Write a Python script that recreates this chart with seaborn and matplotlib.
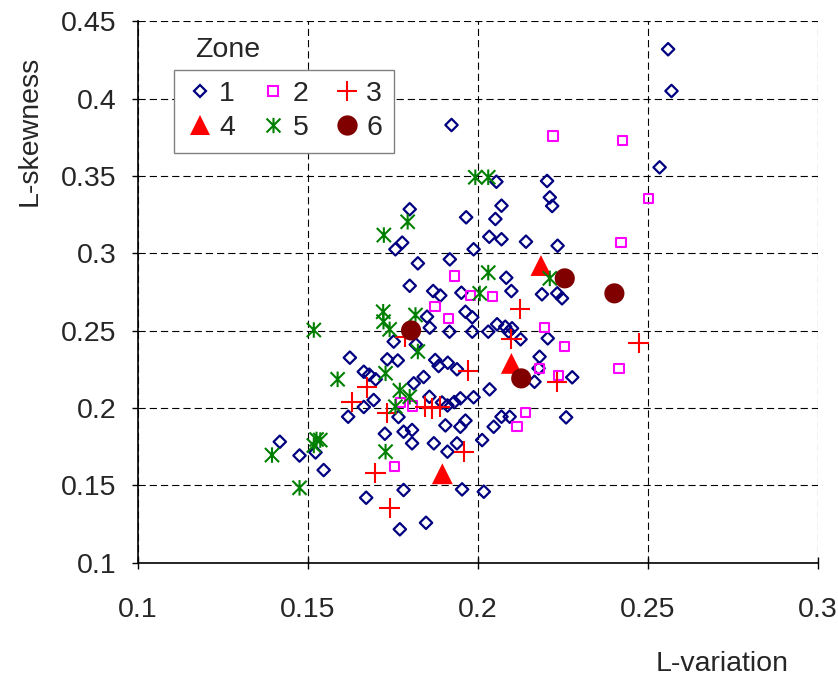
import matplotlib
matplotlib.use("Agg")
import matplotlib.pyplot as plt
import seaborn as sns
import pandas as pd
from matplotlib.lines import Line2D
from matplotlib.path import Path

# ---------------- data ----------------
z1_x = [0.2560, 0.2570, 0.2535, 0.1923, 0.2055, 0.2204, 0.2212, 0.2219, 0.2070, 0.1966,
        0.2052, 0.2034, 0.2070, 0.2142, 0.2235, 0.1988, 0.1918, 0.2084, 0.2099, 0.2189,
        0.2234, 0.2248, 0.1952, 0.1800, 0.1778, 0.1758, 0.1824, 0.1800, 0.1869, 0.1890,
        0.1851, 0.1859, 0.1917, 0.1753, 0.1818, 0.1624, 0.1734, 0.1765, 0.1875, 0.1885,
        0.1912, 0.1665, 0.1681, 0.1700, 0.1841, 0.1812, 0.1694, 0.1665, 0.1619, 0.1767,
        0.1858, 0.1895, 0.1911, 0.1931, 0.1949, 0.1905, 0.1727, 0.1782, 0.1807, 0.1807,
        0.1871, 0.1418, 0.1476, 0.1523, 0.1547, 0.1911, 0.1782, 0.1672, 0.1848, 0.1771,
        0.1964, 0.1984, 0.1984, 0.2031, 0.2057, 0.2081, 0.2101, 0.2091, 0.2126, 0.1939,
        0.2035, 0.1988, 0.2070, 0.2094, 0.1964, 0.1949, 0.2047, 0.2260, 0.2013, 0.1939,
        0.2182, 0.2179, 0.2167, 0.2278, 0.2206, 0.1954, 0.2018]
z1_y = [0.4320, 0.4050, 0.3556, 0.3830, 0.3463, 0.3468, 0.3362, 0.3306, 0.3308, 0.3233,
        0.3222, 0.3107, 0.3091, 0.3075, 0.3049, 0.3026, 0.2961, 0.2842, 0.2756, 0.2735,
        0.2741, 0.2709, 0.2745, 0.3285, 0.3069, 0.3026, 0.2935, 0.2790, 0.2756, 0.2727,
        0.2590, 0.2519, 0.2493, 0.2429, 0.2410, 0.2325, 0.2314, 0.2307, 0.2310, 0.2271,
        0.2292, 0.2234, 0.2215, 0.2185, 0.2200, 0.2159, 0.2051, 0.2006, 0.1943, 0.1941,
        0.2072, 0.2035, 0.2016, 0.2038, 0.2062, 0.1887, 0.1833, 0.1846, 0.1857, 0.1771,
        0.1771, 0.1781, 0.1692, 0.1712, 0.1598, 0.1717, 0.1469, 0.1419, 0.1257, 0.1215,
        0.2622, 0.2586, 0.2493, 0.2493, 0.2541, 0.2525, 0.2515, 0.2493, 0.2444, 0.2250,
        0.2120, 0.2069, 0.1943, 0.1943, 0.1918, 0.1878, 0.1878, 0.1939, 0.1792, 0.1771,
        0.2331, 0.2256, 0.2169, 0.2198, 0.2450, 0.1473, 0.1458]

z2_x = [0.2221, 0.2426, 0.2503, 0.2421, 0.1932, 0.1979, 0.2044, 0.1914, 0.1874, 0.2197,
        0.2256, 0.2181, 0.2238, 0.2415, 0.1773, 0.1809, 0.1756, 0.2140, 0.2116]
z2_y = [0.3759, 0.3728, 0.3356, 0.3070, 0.2853, 0.2727, 0.2719, 0.2580, 0.2655, 0.2519,
        0.2396, 0.2256, 0.2208, 0.2256, 0.2034, 0.2012, 0.1620, 0.1969, 0.1878]

z3_x = [0.1675, 0.1629, 0.1734, 0.1846, 0.1866, 0.1888, 0.1699, 0.1741, 0.2124, 0.2099,
        0.1972, 0.2234, 0.2473, 0.1959, 0.1787]
z3_y = [0.2133, 0.2040, 0.1969, 0.2008, 0.1997, 0.2008, 0.1577, 0.1354, 0.2638, 0.2446,
        0.2241, 0.2169, 0.2420, 0.1717, 0.2459]

z4_x = [0.2186, 0.2099, 0.1896]
z4_y = [0.2921, 0.2288, 0.1574]

z5_x = [0.1993, 0.2031, 0.1794, 0.1724, 0.2212, 0.2031, 0.2006, 0.1722, 0.1723, 0.1741,
        0.1817, 0.1518, 0.1824, 0.1588, 0.1729, 0.1771, 0.1800, 0.1758, 0.1526, 0.1537,
        0.1518, 0.1395, 0.1729, 0.1476]
z5_y = [0.3492, 0.3492, 0.3204, 0.3118, 0.2838, 0.2875, 0.2741, 0.2622, 0.2558, 0.2508,
        0.2601, 0.2504, 0.2365, 0.2185, 0.2224, 0.2113, 0.2072, 0.2008, 0.1796, 0.1792,
        0.1757, 0.1695, 0.1717, 0.1483]

z6_x = [0.1804, 0.2256, 0.2402, 0.2128]
z6_y = [0.2501, 0.2838, 0.2741, 0.2191]

zone_labels = ["1", "2", "3", "4", "5", "6"]
x_ticks = [0.1, 0.15, 0.2, 0.25, 0.3]
y_ticks = [0.1, 0.15, 0.2, 0.25, 0.3, 0.35, 0.4, 0.45]
x_tick_labels = ["0.1", "0.15", "0.2", "0.25", "0.3"]
y_tick_labels = ["0.1", "0.15", "0.2", "0.25", "0.3", "0.35", "0.4", "0.45"]

# ---------------- styling ----------------
sns.set_theme(style="white")
plt.rcParams["font.family"] = ["Liberation Sans", "DejaVu Sans"]

FS = 20.5
asterisk = Path([(-1, -1), (1, 1), (-1, 1), (1, -1), (0, -1.1), (0, 1.1)],
                [Path.MOVETO, Path.LINETO, Path.MOVETO, Path.LINETO, Path.MOVETO, Path.LINETO])

styles = {
    "1": dict(marker="D", s=40, color="#000080", filled=False, lw=1.6, ms=6.6),
    "2": dict(marker="s", s=46, color="#FF00FF", filled=False, lw=1.5, ms=7.2),
    "3": dict(marker="+", s=215, color="#FF0000", filled=False, lw=1.5, ms=15),
    "4": dict(marker="^", s=225, color="#FF0000", filled=True, lw=0.0, ms=15),
    "5": dict(marker=asterisk, s=125, color="#008000", filled=False, lw=1.5, ms=11),
    "6": dict(marker="o", s=210, color="#800000", filled=True, lw=0.0, ms=14.6),
}

data = {
    "1": (z1_x, z1_y), "2": (z2_x, z2_y), "3": (z3_x, z3_y),
    "4": (z4_x, z4_y), "5": (z5_x, z5_y), "6": (z6_x, z6_y),
}

fig = plt.figure(figsize=(8.38, 6.82), dpi=100)
ax = fig.add_axes([0.1643, 0.1752, 0.8115, 0.7934])

for z in zone_labels:
    xs, ys = data[z]
    st = styles[z]
    df = pd.DataFrame({"L-variation": xs, "L-skewness": ys})
    sns.scatterplot(data=df, x="L-variation", y="L-skewness", ax=ax,
                    marker=st["marker"], s=st["s"], legend=False, zorder=3)
    coll = ax.collections[-1]
    if st["filled"]:
        coll.set_facecolor(st["color"])
        coll.set_edgecolor("none")
        coll.set_linewidth(0)
    else:
        coll.set_facecolor("none")
        coll.set_edgecolor(st["color"])
        coll.set_linewidth(st["lw"])

ax.set_xlim(0.1, 0.3)
ax.set_ylim(0.1, 0.45)
ax.set_xticks(x_ticks)
ax.set_xticklabels(x_tick_labels)
ax.set_yticks(y_ticks)
ax.set_yticklabels(y_tick_labels)

ax.grid(True, color="black", linestyle=(0, (6.5, 3.6)), linewidth=0.8, zorder=0)
ax.set_axisbelow(True)
for side in ["top", "right"]:
    ax.spines[side].set_visible(False)
for side in ["left", "bottom"]:
    ax.spines[side].set_visible(True)
    ax.spines[side].set_color("black")
    ax.spines[side].set_linewidth(1.2)

ax.tick_params(axis="x", direction="inout", length=9, width=1.0, color="black",
               labelsize=FS, pad=20, bottom=True)
ax.tick_params(axis="y", direction="out", length=4, width=1.0, color="black",
               labelsize=FS, pad=11, left=True)

ax.set_xlabel("L-variation", fontsize=FS)
ax.set_ylabel("L-skewness", fontsize=FS)
ax.xaxis.set_label_coords(0.859, -0.163)
ax.yaxis.set_label_coords(-0.140, 0.797)

# legend, row-major order 1 2 3 / 4 5 6
handles = {}
for z in zone_labels:
    st = styles[z]
    if st["filled"]:
        h = Line2D([], [], linestyle="none", marker=st["marker"], markersize=st["ms"],
                   markerfacecolor=st["color"], markeredgecolor=st["color"], markeredgewidth=0)
    else:
        h = Line2D([], [], linestyle="none", marker=st["marker"], markersize=st["ms"],
                   markerfacecolor="none", markeredgecolor=st["color"],
                   markeredgewidth=st["lw"])
    handles[z] = h
order = ["1", "4", "2", "5", "3", "6"]
leg = ax.legend([handles[z] for z in order], order, ncol=3, loc="upper left",
                bbox_to_anchor=(174 / 838, 1 - 70 / 682), bbox_transform=fig.transFigure,
                borderaxespad=0, fontsize=FS, frameon=True, fancybox=False,
                edgecolor="#808080", framealpha=1, handlelength=1.0, handletextpad=0.18,
                columnspacing=0.85, labelspacing=0.28, borderpad=0.4)
leg.get_frame().set_linewidth(1.0)
fig.text(195 / 838, 1 - 50 / 682, "Zone", fontsize=FS, ha="left", va="center")

fig.savefig("out.png", dpi=100)
